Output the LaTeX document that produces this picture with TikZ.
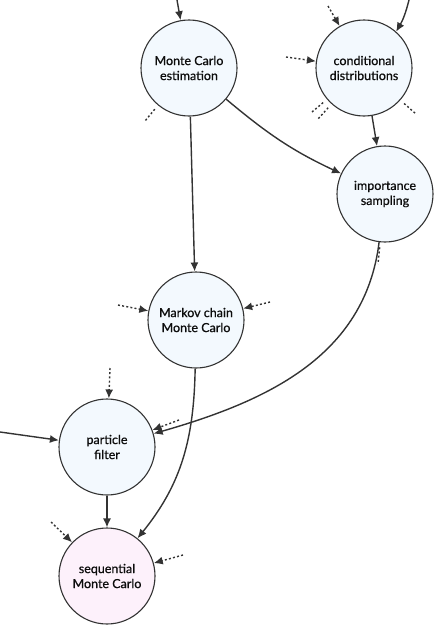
\documentclass[tikz,border=0pt]{standalone}
\usepackage{fontspec}
\setmainfont{Lato}
\newfontfamily\topicfont{Lato}[FakeBold=0.7]
\usepackage{tikz}
\usepackage{xcolor}
\definecolor{edge}{RGB}{51,51,51}
\definecolor{topicfill}{RGB}{243,249,254}
\definecolor{goalfill}{RGB}{253,241,251}
\usetikzlibrary{positioning, calc, shapes.geometric, arrows.meta}
\tikzstyle{Topic} = [
circle, draw=edge, line width=1.1pt, fill=topicfill,
minimum size=96pt, inner sep=0pt, align=center,
text=black!95, font=\topicfont\fontsize{12.5}{15}\selectfont]
\tikzstyle{Arrow} = [
edge, line width=1.4pt,
-{Latex[length=9pt, width=8pt]}]
\tikzstyle{DotArrow} = [
Arrow, dash pattern=on 2pt off 2.2pt]
\tikzstyle{Stub} = [
edge, line width=1.4pt, dash pattern=on 2pt off 2.2pt, shorten <=5pt]

\begin{document}
\begin{tikzpicture}[x=1pt, y=-1pt]
        \useasboundingbox (0,0) rectangle (437,629);
        \node [Topic] (mce) at (189,68) {Monte Carlo\\estimation};
        \node [Topic] (cd) at (364,68) {conditional\\distributions};
        \node [Topic] (is) at (385,194) {importance\\sampling};
        \node [Topic] (mcmc) at (196,320) {Markov chain\\Monte Carlo};
        \node [Topic] (pf) at (107,447) {particle\\filter};
        \node [Topic, fill=goalfill] (smc) at (107,576) {sequential\\Monte Carlo};

        \coordinate (mceIn) at (177,0);
        \coordinate (mceOut) at (145,121);
        \coordinate (cdInA) at (328,6);
        \coordinate (cdInB) at (409,0);
        \coordinate (cdInC) at (286,57);
        \coordinate (cdOutA) at (312,112);
        \coordinate (cdOutB) at (318,119);
        \coordinate (cdOutC) at (416,114);
        \coordinate (isOut) at (378,264);
        \coordinate (mcmcInA) at (118,305);
        \coordinate (mcmcInB) at (270,302);
        \coordinate (pfInA) at (0,432);
        \coordinate (pfInB) at (110,368);
        \coordinate (pfInC) at (179,420);
        \coordinate (smcInA) at (51,522);
        \coordinate (smcInB) at (183,555);

        \draw[Arrow] (mceIn) to (mce);
        \draw[Stub] (mce) to (mceOut);
        \draw[DotArrow] (cdInA) to (cd);
        \draw[Arrow] (cdInB) to [bend left=8] (cd);
        \draw[DotArrow] (cdInC) to (cd);
        \draw[Stub] (cd) to (cdOutA);
        \draw[Stub] (cd) to (cdOutB);
        \draw[Stub] (cd) to (cdOutC);
        \draw[Arrow] (cd) to (is);
        \draw[Arrow] (mce) to [out=-40, in=155] (is);
        \draw[Arrow] (mce) to (mcmc);
        \draw[Stub] (is) to (isOut);
        \draw[Arrow] (is) to [out=-97, in=16] (pf);
        \draw[DotArrow] (mcmcInA) to (mcmc);
        \draw[DotArrow] (mcmcInB) to (mcmc);
        \draw[Arrow] (mcmc) to [out=-91, in=51] (smc);
        \draw[Arrow] (pfInA) to (pf);
        \draw[DotArrow] (pfInB) to (pf);
        \draw[DotArrow] (pfInC) to (pf);
        \draw[Arrow] (pf) to (smc);
        \draw[DotArrow] (smcInA) to (smc);
        \draw[DotArrow] (smcInB) to (smc);
    \end{tikzpicture}
\end{document}
